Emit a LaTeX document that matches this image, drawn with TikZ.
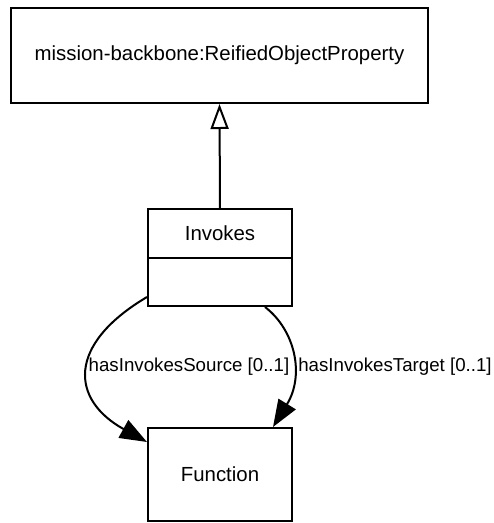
\documentclass[tikz,border=0pt]{standalone}
\usepackage{fontspec}
\setmainfont{Liberation Sans}
\usetikzlibrary{arrows.meta}
\begin{document}
\begin{tikzpicture}[x=1pt,y=-1pt,
  box/.style={draw=black, line width=2pt, fill=white, inner sep=0pt, font=\fontsize{20.4}{24}\selectfont},
  lbl/.style={inner sep=0pt, font=\fontsize{18.7}{22}\selectfont},
  conn/.style={line width=2pt},
  gentip/.style={-{Triangle[fill=white, length=25pt, width=18pt, line width=2pt]}},
  assoc/.style={-{Triangle[length=27pt, width=20pt]}}]
\useasboundingbox (0,0) rectangle (494,523);
\node[box, minimum width=417pt, minimum height=95pt] (rop) at (219.5,55.5) {mission-backbone:ReifiedObjectProperty};
\node[box, minimum width=144pt, minimum height=49pt] (inv) at (220,233.5) {Invokes};
\node[box, minimum width=144pt, minimum height=48pt] (invb) at (220,282) {};
\node[box, minimum width=144pt, minimum height=93pt] (fun) at (220,474.5) {Function};
\draw[conn, gentip] (inv.north) -- (rop.south);
\draw[conn, assoc] ([yshift=-15pt]invb.west) .. controls (66,345) and (71,400) .. ([yshift=-15pt]fun.north west);
\draw[conn, assoc] ([xshift=45pt]invb.south) .. controls (295,330) and (305,375) .. ([xshift=53pt]fun.north);
\node[lbl] (src) at (189,367) {hasInvokesSource [0..1]};
\node[lbl] (tgt) at (395,367) {hasInvokesTarget [0..1]};
\end{tikzpicture}
\end{document}
